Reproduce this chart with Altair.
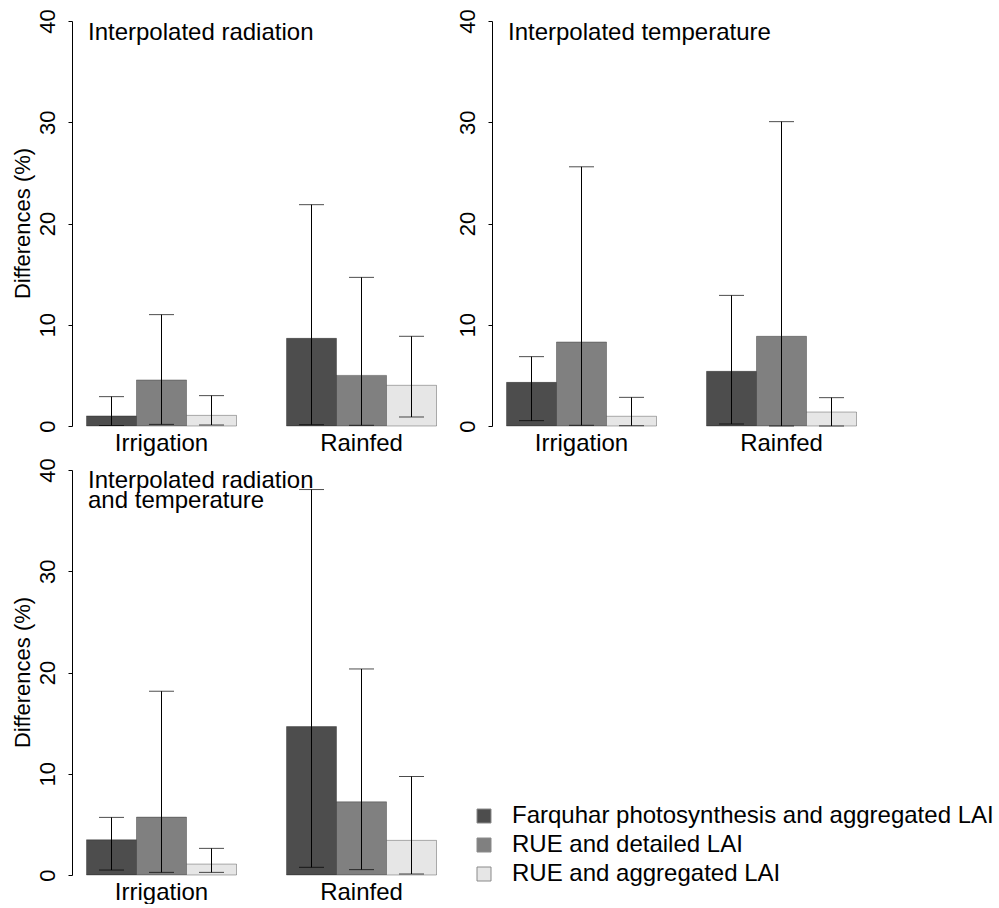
import altair as alt
import pandas as pd

FONT = "Liberation Sans"

panels = ["Interpolated radiation", "Interpolated temperature",
          "Interpolated radiation\nand temperature"]
groups = ["Irrigation", "Rainfed"]
series = ["Farquhar photosynthesis and aggregated LAI",
          "RUE and detailed LAI",
          "RUE and aggregated LAI"]
colors = ["#4d4d4d", "#808080", "#e6e6e6"]

# order per panel: Irrigation s1,s2,s3, Rainfed s1,s2,s3
means = [
    [1.0, 4.55, 1.05, 8.66, 5.0, 4.02],
    [4.31, 8.3, 0.96, 5.4, 8.86, 1.38],
    [3.48, 5.72, 1.08, 14.66, 7.23, 3.42],
]
upper = [
    [2.9, 11.0, 3.0, 21.86, 14.68, 8.86],
    [6.85, 25.6, 2.83, 12.9, 30.06, 2.8],
    [5.69, 18.15, 2.63, 38.07, 20.35, 9.73],
]
lower = [
    [0.05, 0.16, 0.1, 0.13, 0.07, 0.89],
    [0.53, 0.07, 0.03, 0.2, 0.0, 0.0],
    [0.49, 0.26, 0.26, 0.76, 0.53, 0.1],
]


def panel_df(i):
    rows = []
    k = 0
    for g in groups:
        for s in series:
            rows.append({"group": g, "series": s, "value": means[i][k],
                         "lo": lower[i][k], "hi": upper[i][k]})
            k += 1
    return pd.DataFrame(rows)


def make_panel(i, ytitle, legend):
    df = panel_df(i)
    base = alt.Chart(df)
    x = alt.X("group:N", sort=groups,
              scale=alt.Scale(domain=groups, paddingInner=0.25, paddingOuter=0.0725),
              axis=alt.Axis(title=None, labelAngle=0, domain=False, ticks=False,
                            tickSize=0, labelPadding=5, labelFontSize=24,
                            labelFont=FONT, labelColor="black",
                            labelBaseline="top"))
    xo = alt.XOffset("series:N", sort=series,
                     scale=alt.Scale(domain=series, paddingInner=0, paddingOuter=0))
    yaxis = alt.Axis(values=[0, 10, 20, 30, 40], grid=False, labelAngle=-90,
                     labelAlign="center", labelBaseline="alphabetic",
                     labelFontSize=22, labelFont=FONT, labelColor="black",
                     tickSize=4, labelPadding=14, tickColor="black",
                     domainColor="black", labelFlush=False,
                     title=ytitle if ytitle else None,
                     titleFont=FONT, titleFontSize=22, titleFontWeight="normal",
                     titleColor="black", titleX=-43, titleY=202,
                     titleBaseline="alphabetic", titleAngle=-90,
                     titleAlign="center")
    yscale = alt.Scale(domain=[0, 40], nice=False, zero=True)
    if legend:
        fill_legend = alt.Legend(title=None, orient="none", legendX=400, legendY=334,
                                 labelFont=FONT, labelFontSize=24, labelColor="black",
                                 labelLimit=700, symbolType="square", symbolSize=196,
                                 symbolStrokeColor="#8a8a8a", symbolStrokeWidth=1,
                                 rowPadding=5, labelOffset=16)
    else:
        fill_legend = None
    bars = base.mark_bar(stroke="black", strokeOpacity=0.3, strokeWidth=1).encode(
        x=x, xOffset=xo,
        y=alt.Y("value:Q", scale=yscale, axis=yaxis),
        fill=alt.Fill("series:N", sort=series,
                      scale=alt.Scale(domain=series, range=colors),
                      legend=fill_legend),
    )
    rules = base.mark_rule(color="black", strokeWidth=1).encode(
        x=x, xOffset=xo, y=alt.Y("lo:Q", scale=yscale), y2="hi:Q")
    cap_hi = base.mark_tick(color="black", thickness=1, size=25).encode(
        x=x, xOffset=xo, y=alt.Y("hi:Q", scale=yscale))
    cap_lo = base.mark_tick(color="black", thickness=1, size=25).encode(
        x=x, xOffset=xo, y=alt.Y("lo:Q", scale=yscale))
    tdf = pd.DataFrame({"t": [panels[i]]})
    title = alt.Chart(tdf).mark_text(
        align="left", baseline="alphabetic", font=FONT, fontSize=24,
        color="black", lineBreak="\n", lineHeight=20).encode(
        text="t:N", x=alt.value(16), y=alt.value(19 if i < 2 else 18))
    return alt.layer(bars, rules, cap_hi, cap_lo, title).properties(width=379, height=405)


p1 = make_panel(0, "Differences (%)", False)
p2 = make_panel(1, None, False)
p3 = make_panel(2, "Differences (%)", True)

chart = alt.concat(
    p1, p2, p3, columns=2,
    spacing=alt.RowColnumber(row=44, column=41),
    bounds="flush",
).resolve_scale(fill="independent", x="independent", y="independent", xOffset="independent"
).resolve_legend(fill="independent").properties(
    padding={"left": 11, "top": 8, "right": 0, "bottom": 0},
    background="white",
).configure_view(stroke=None)

chart.save("out.html", embed_options={"renderer": "svg", "actions": False})
